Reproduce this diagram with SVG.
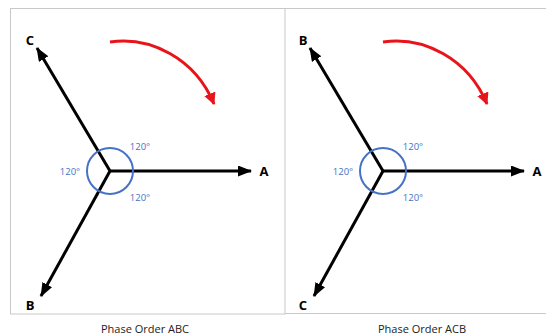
<svg xmlns="http://www.w3.org/2000/svg" width="546" height="335" viewBox="0 0 546 335">
<style>
.frame{fill:none;stroke:#c8c8c8;stroke-width:1}
.vec{stroke:#000;stroke-width:3;fill:none;marker-end:url(#ah)}
.rot{stroke:#e8141b;stroke-width:3;fill:none;marker-end:url(#rh)}
.ang{fill:none;stroke:#4472c4;stroke-width:2}
.lbl{font-family:"Open Sans","Liberation Sans",sans-serif;font-weight:bold;font-size:13px;fill:#000;text-anchor:middle}
.deg{font-family:"Open Sans","Liberation Sans",sans-serif;font-size:9.5px;fill:#4472c4;text-anchor:middle}
.cap{font-family:"Open Sans","Liberation Sans",sans-serif;font-size:11px;fill:#222;text-anchor:middle}
</style>
<defs>
<marker id="ah" markerUnits="userSpaceOnUse" markerWidth="14" markerHeight="11" refX="13" refY="5.5" orient="auto" viewBox="0 0 14 11">
<path d="M0,0 L14,5.5 L0,11 z" fill="#000"/>
</marker>
<marker id="rh" markerUnits="userSpaceOnUse" markerWidth="13" markerHeight="12" refX="11" refY="6" orient="auto" viewBox="0 0 13 12">
<path d="M0,0 L12,6 L0,12 z" fill="#e8141b"/>
</marker>
</defs>
<g id="frames">
<rect class="frame" x="10.5" y="8.5" width="274.5" height="305.5"/>
<path class="frame" d="M285,8.5 H546 M285,313.5 H546"/>
</g>
<g id="connectors">
<line class="vec" x1="110" y1="171" x2="251" y2="171"/>
<line class="vec" x1="110" y1="171" x2="37" y2="48"/>
<line class="vec" x1="110" y1="171" x2="41" y2="296"/>
<path class="rot" d="M110,42 C150,36 195,58 214,104"/>
<line class="vec" x1="383" y1="171" x2="524" y2="171"/>
<line class="vec" x1="383" y1="171" x2="310" y2="48"/>
<line class="vec" x1="383" y1="171" x2="314" y2="296"/>
<path class="rot" d="M383,42 C423,36 468,58 487,104"/>
</g>
<g id="angle-abc">
<circle class="ang" cx="110" cy="171" r="23"/>
<text class="deg" x="140" y="150">120°</text>
<text class="deg" x="70" y="175">120°</text>
<text class="deg" x="140" y="201">120°</text>
</g>
<g id="angle-acb">
<circle class="ang" cx="383" cy="171" r="23"/>
<text class="deg" x="413" y="150">120°</text>
<text class="deg" x="343" y="175">120°</text>
<text class="deg" x="413" y="201">120°</text>
</g>
<g id="node-A1"><text class="lbl" x="264" y="176">A</text></g>
<g id="node-C1"><text class="lbl" x="30" y="45">C</text></g>
<g id="node-B1"><text class="lbl" x="30" y="310">B</text></g>
<g id="node-A2"><text class="lbl" x="537" y="176">A</text></g>
<g id="node-B2"><text class="lbl" x="303" y="45">B</text></g>
<g id="node-C2"><text class="lbl" x="303" y="310">C</text></g>
<g id="captions">
<text class="cap" x="145" y="333">Phase Order ABC</text>
<text class="cap" x="422" y="333">Phase Order ACB</text>
</g>
</svg>
